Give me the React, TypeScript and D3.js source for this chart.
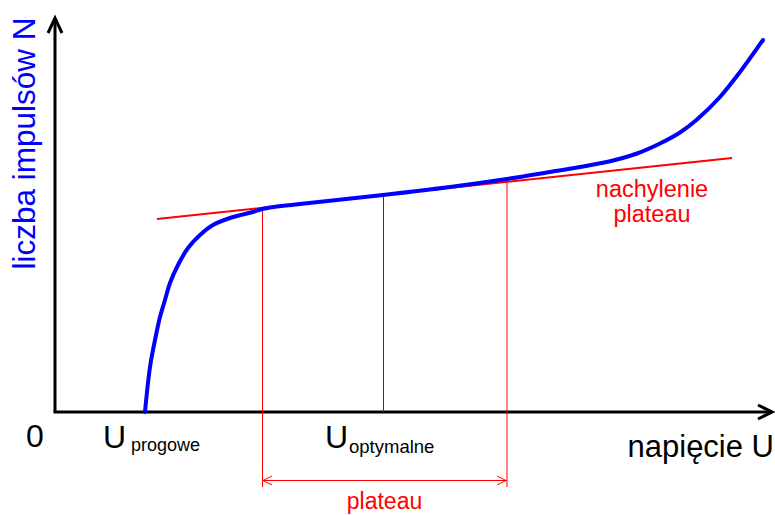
import React from "react";
import * as d3 from "d3";

// Characteristic of a Geiger counter: voltage U (V) vs pulse count N
const voltage = [180, 190, 200, 210, 220, 230, 246, 266, 290, 316, 356, 396, 414, 490, 656, 790, 904, 990, 1050, 1116, 1164, 1210, 1250, 1284, 1330, 1370, 1416];
const counts = [0, 90, 144, 190, 224, 258, 294, 328, 354, 374, 390, 400, 406, 416, 434, 450, 466, 480, 490, 503, 517, 537, 559, 585, 630, 680, 744];

// plateau slope (tangent) line
const tangentU = [204, 1354];
const tangentN = [386, 508];

// characteristic voltages
const U_progowe = 180;
const plateauStart = 414;
const plateauEnd = 904;
const U_optymalne = 656;

const W = 775;
const H = 515;
const FONT = "'Liberation Sans', Arial, Helvetica, sans-serif";

export default function App() {
  const x = d3.scaleLinear().domain([0, 1440]).range([55, 775]);
  const y = d3.scaleLinear().domain([0, 800]).range([412, 12]);
  const curveAt = d3.scaleLinear().domain(voltage).range(counts);

  const line = d3
    .line<number>()
    .x((_, i) => x(voltage[i]))
    .y((d) => y(d))
    .curve(d3.curveCatmullRom.alpha(0.5));

  const x0 = x(0);
  const y0 = y(0);
  const yTop = 17;
  const xEnd = 773;
  const vBottom = y0 + 75;
  const arrowY = y0 + 68;

  const xs = x(plateauStart);
  const xe = x(plateauEnd);
  const xo = x(U_optymalne);
  const xp = x(U_progowe);

  return (
    <div style={{ position: "fixed", left: 0, top: 0, width: W, height: H, background: "#fff" }}>
      <svg width={W} height={H} style={{ display: "block" }}>
        {/* axes */}
        <line x1={x0} y1={y0} x2={x0} y2={yTop + 1} stroke="#000" strokeWidth={3} />
        <line x1={x0 - 1.5} y1={y0} x2={xEnd - 1} y2={y0} stroke="#000" strokeWidth={3} />
        <path d={`M${x0 - 7},${yTop + 16} L${x0},${yTop + 1} L${x0 + 7},${yTop + 16}`} fill="none" stroke="#000" strokeWidth={3} />
        <path d={`M${xEnd - 15},${y0 - 7} L${xEnd - 1},${y0} L${xEnd - 15},${y0 + 7}`} fill="none" stroke="#000" strokeWidth={3} />

        {/* vertical guide lines */}
        <line x1={xs + 0.5} x2={xs + 0.5} y1={y(curveAt(plateauStart))} y2={vBottom} stroke="#ff0000" strokeWidth={1} />
        <line x1={xe} x2={xe} y1={y(curveAt(plateauEnd))} y2={vBottom} stroke="#ff0000" strokeWidth={1} />
        <line x1={xo + 0.5} x2={xo + 0.5} y1={y(curveAt(U_optymalne))} y2={y0} stroke="#2020ff" strokeWidth={1} />

        {/* plateau double arrow */}
        <line x1={xs} x2={xe} y1={arrowY + 0.5} y2={arrowY + 0.5} stroke="#ff0000" strokeWidth={1} />
        <path d={`M${xs + 10},${arrowY - 4} L${xs + 1},${arrowY + 0.5} L${xs + 10},${arrowY + 5}`} fill="none" stroke="#ff0000" strokeWidth={1} />
        <path d={`M${xe - 10},${arrowY - 4} L${xe - 1},${arrowY + 0.5} L${xe - 10},${arrowY + 5}`} fill="none" stroke="#ff0000" strokeWidth={1} />

        {/* tangent (plateau slope) */}
        <line x1={x(tangentU[0])} y1={y(tangentN[0])} x2={x(tangentU[1])} y2={y(tangentN[1])} stroke="#ff0000" strokeWidth={2} />

        {/* characteristic curve */}
        <path d={line(counts) || ""} fill="none" stroke="#0000ff" strokeWidth={4} strokeLinecap="round" />

        {/* labels */}
        <g fontFamily={FONT}>
          <text x={26} y={447} fontSize={32} fill="#000">0</text>
          <text x={xp - 42} y={448} fontSize={32} fill="#000">U</text>
          <text x={xp - 14} y={451} fontSize={18} fill="#000">progowe</text>
          <text x={xo - 58} y={448} fontSize={32} fill="#000">U</text>
          <text x={xo - 34} y={453} fontSize={18.5} fill="#000">optymalne</text>
          <text x={774} y={457} fontSize={31} fill="#000" textAnchor="end">napięcie U</text>
          <text x={(xs + xe) / 2} y={509} fontSize={23} fill="#ff0000" textAnchor="middle">plateau</text>
          <text x={652} y={197} fontSize={23.5} fill="#ff0000" textAnchor="middle">nachylenie</text>
          <text x={652} y={222} fontSize={23.5} fill="#ff0000" textAnchor="middle">plateau</text>
          <text
            transform={`translate(35, ${(17 + 270) / 2}) rotate(-90)`}
            fontSize={31.5}
            fill="#0000ff"
            textAnchor="middle"
          >
            liczba impulsów N
          </text>
        </g>
      </svg>
    </div>
  );
}
